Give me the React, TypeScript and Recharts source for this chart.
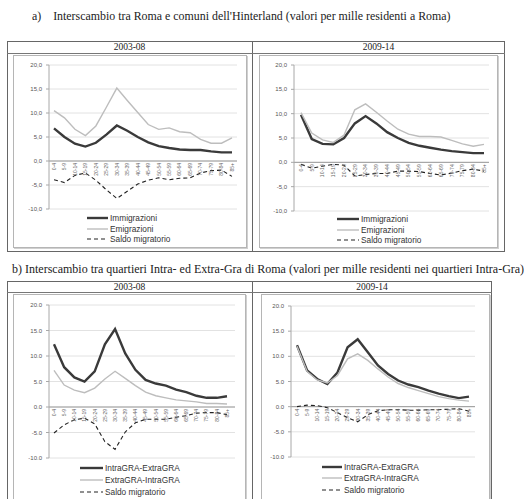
import React from "react";
import { LineChart, Line, XAxis, YAxis, CartesianGrid, ReferenceLine } from "recharts";

/* ── age groups (x axis) ── */
const AGES = [
  "0-4", "5-9", "10-14", "15-19", "20-24", "25-29", "30-34", "35-39", "40-44",
  "45-49", "50-54", "55-59", "60-64", "65-69", "70-74", "75-79", "80-84", "85+",
];
const Y_TICKS = [-10, -5, 0, 5, 10, 15, 20];

/* ── a) Roma <-> Hinterland, 2003-08 ── */
const immA1 = [6.8, 5.0, 3.6, 3.0, 3.8, 5.5, 7.4, 6.3, 5.0, 3.9, 3.1, 2.7, 2.4, 2.3, 2.3, 2.0, 1.8, 1.8];
const emiA1 = [10.5, 9.0, 6.6, 5.3, 7.3, 11.2, 15.2, 12.6, 10.1, 7.6, 6.6, 6.9, 6.1, 5.9, 4.5, 3.7, 3.7, 4.8];
const salA1 = [-3.9, -4.5, -3.0, -2.5, -4.0, -6.0, -7.8, -6.3, -4.8, -4.0, -3.5, -3.9, -3.6, -3.5, -2.5, -2.0, -1.9, -3.2];

/* ── a) Roma <-> Hinterland, 2009-14 ── */
const immA2 = [9.8, 4.8, 3.8, 3.7, 5.0, 8.0, 9.5, 8.0, 6.2, 5.0, 4.0, 3.4, 3.0, 2.6, 2.3, 2.1, 1.9, 1.9];
const emiA2 = [10.2, 6.0, 4.6, 4.1, 5.6, 10.8, 12.0, 10.3, 8.5, 6.8, 5.8, 5.3, 5.3, 5.2, 4.5, 3.8, 3.3, 3.7];
const salA2 = [-0.4, -1.2, -0.8, -0.4, -0.6, -2.8, -2.5, -2.3, -2.3, -1.8, -1.8, -1.9, -2.3, -2.6, -2.2, -1.7, -1.4, -1.8];

/* ── b) Intra-GRA <-> Extra-GRA, 2003-08 ── */
const intB1 = [12.3, 7.8, 5.8, 5.0, 7.0, 12.3, 15.3, 10.5, 7.3, 5.3, 4.6, 4.2, 3.4, 2.9, 2.2, 1.8, 1.8, 2.1];
const extB1 = [7.2, 4.3, 3.3, 2.8, 3.7, 5.5, 7.0, 5.6, 4.2, 2.9, 2.2, 1.8, 1.4, 1.2, 1.0, 0.7, 0.7, 0.6];
const salB1 = [-5.1, -3.5, -2.5, -2.2, -3.3, -6.8, -8.3, -4.9, -3.1, -2.4, -2.4, -2.4, -2.0, -1.7, -1.2, -1.1, -1.1, -1.5];

/* ── b) Intra-GRA <-> Extra-GRA, 2009-14 ── */
const intB2 = [12.2, 7.2, 5.5, 4.5, 6.8, 11.8, 13.4, 10.8, 8.2, 6.5, 5.2, 4.4, 3.9, 3.2, 2.6, 2.1, 1.7, 2.0];
const extB2 = [12.0, 7.0, 5.3, 4.7, 6.2, 9.5, 10.5, 9.2, 7.5, 5.9, 4.6, 3.8, 3.2, 2.6, 2.0, 1.6, 1.3, 1.1];
const salB2 = [0.0, 0.3, 0.2, -0.2, -1.2, -2.2, -3.0, -1.6, -0.8, -0.6, -0.6, -0.7, -0.7, -0.6, -0.6, -0.5, -0.4, -0.9];

const rows = (a: number[], b: number[], c: number[]) =>
  AGES.map((age, i) => ({ age, s1: a[i], s2: b[i], s3: c[i] }));

const DARK = "#3a3a3a";
const LIGHT = "#bdbdbd";
const SANS = "'Liberation Sans', Arial, sans-serif";
const SERIF = "'Liberation Serif', 'Times New Roman', serif";

type Series = { key: string; name: string; stroke: string; width: number; dash?: string };

const seriesA: Series[] = [
  { key: "s1", name: "Immigrazioni", stroke: DARK, width: 2.4 },
  { key: "s2", name: "Emigrazioni", stroke: LIGHT, width: 1.4 },
  { key: "s3", name: "Saldo migratorio", stroke: "#222", width: 1.1, dash: "4 3" },
];
const seriesB: Series[] = [
  { key: "s1", name: "IntraGRA-ExtraGRA", stroke: DARK, width: 2.4 },
  { key: "s2", name: "ExtraGRA-IntraGRA", stroke: LIGHT, width: 1.4 },
  { key: "s3", name: "Saldo migratorio", stroke: "#222", width: 1.1, dash: "4 3" },
];

type PanelProps = {
  left: number; top: number; width: number; height: number;
  margin: { top: number; right: number; bottom: number; left: number };
  axisW: number; pad: [number, number];
  data: any[]; series: Series[]; sep: string;
  legend: { x: number; y: number; sw: number; gap: number };
};

function Panel(p: PanelProps) {
  const plotH = p.height - 2 - p.margin.top - p.margin.bottom - 1;
  const zeroShift = plotH / 3; // 0 lies a third of the way up from -10
  const AgeTick = (t: any) => (
    <text
      transform={`translate(${t.x + 1.8},${t.y - zeroShift + 2}) rotate(-90)`}
      textAnchor="end" fontSize={5} fill="#666" fontFamily={SANS}
    >
      {t.payload.value}
    </text>
  );
  return (
    <div style={{
      position: "absolute", left: p.left, top: p.top, width: p.width, height: p.height,
      border: "1px solid #b5b5b5", boxShadow: "1px 1px 0 #d0d0d0", boxSizing: "border-box",
      background: "#fff",
    }}>
      <LineChart width={p.width - 2} height={p.height - 2} data={p.data} margin={p.margin}>
        <CartesianGrid vertical={false} stroke="#e2e2e2" />
        <XAxis
          dataKey="age" interval={0} height={1} tickSize={0} tickMargin={0}
          axisLine={false} tickLine={false} tick={AgeTick}
          padding={{ left: p.pad[0], right: p.pad[1] }}
        />
        <YAxis
          domain={[-10, 20]} ticks={Y_TICKS} width={p.axisW} tickSize={3} tickMargin={4}
          axisLine={{ stroke: "#a8a8a8" }} tickLine={{ stroke: "#a8a8a8" }}
          tick={{ fontSize: 6, fill: "#555", fontFamily: SANS }}
          tickFormatter={(v: number) => v.toFixed(1).replace(".", p.sep)}
        />
        <ReferenceLine y={0} stroke="#9a9a9a" />
        {p.series.map((s) => (
          <Line
            key={s.key} dataKey={s.key} name={s.name} type="linear"
            stroke={s.stroke} strokeWidth={s.width} strokeDasharray={s.dash}
            dot={false} isAnimationActive={false}
          />
        ))}
      </LineChart>
      <div style={{ position: "absolute", left: p.legend.x, top: p.legend.y, fontFamily: SANS, fontSize: 8.3, color: "#333" }}>
        {p.series.map((s) => (
          <div key={s.key} style={{ display: "flex", alignItems: "center", height: p.legend.gap }}>
            <svg width={p.legend.sw} height={6} style={{ marginRight: 2 }}>
              <line x1={0} y1={3} x2={p.legend.sw} y2={3} stroke={s.stroke}
                strokeWidth={s.width} strokeDasharray={s.dash} />
            </svg>
            <span style={{ lineHeight: 1 }}>{s.name}</span>
          </div>
        ))}
      </div>
    </div>
  );
}

const cell = { position: "absolute" as const, boxSizing: "border-box" as const };

function Frame({ left, top, width, height, split, headH, labels }:
  { left: number; top: number; width: number; height: number; split: number; headH: number; labels: string[] }) {
  return (
    <>
      <div style={{ ...cell, left, top, width, height, border: "1px solid #666" }} />
      <div style={{ ...cell, left: split, top, width: 1, height, background: "#666" }} />
      <div style={{ ...cell, left, top: top + headH, width, height: 1, background: "#777" }} />
      {labels.map((l, i) => {
        const x0 = i === 0 ? left : split;
        const w = i === 0 ? split - left : left + width - split;
        return (
          <div key={l} style={{
            ...cell, left: x0, top: top + 1, width: w, height: headH - 1, textAlign: "center",
            fontFamily: SERIF, fontSize: 9.5, lineHeight: `${headH - 1}px`, color: "#222",
          }}>{l}</div>
        );
      })}
    </>
  );
}

export default function App() {
  return (
    <div style={{ position: "absolute", left: 0, top: 0, width: 524, height: 499, background: "#fff", overflow: "hidden" }}>
      <div style={{ ...cell, left: 32, top: 9, fontFamily: SERIF, fontSize: 11.9, color: "#222", whiteSpace: "nowrap" }}>
        a)&nbsp;&nbsp;&nbsp;&nbsp;Interscambio tra Roma e comuni dell'Hinterland (valori per mille residenti a Roma)
      </div>
      <Frame left={7} top={41} width={498} height={211} split={252} headH={12} labels={["2003-08", "2009-14"]} />
      <Panel left={13} top={55} width={234} height={193}
        margin={{ top: 9, right: 9, bottom: 37, left: 0 }} axisW={35} pad={[5, 5]}
        data={rows(immA1, emiA1, salA1)} series={seriesA} sep=","
        legend={{ x: 73, y: 157, sw: 21, gap: 10.5 }} />
      <Panel left={259} top={55} width={239} height={193}
        margin={{ top: 9, right: 8, bottom: 35, left: 0 }} axisW={34} pad={[7, 5]}
        data={rows(immA2, emiA2, salA2)} series={seriesA} sep=","
        legend={{ x: 77, y: 158, sw: 22, gap: 10.5 }} />

      <div style={{ ...cell, left: 12, top: 262, fontFamily: SERIF, fontSize: 12, color: "#222", whiteSpace: "nowrap" }}>
        b) Interscambio tra quartieri Intra- ed Extra-Gra di Roma (valori per mille residenti nei quartieri Intra-Gra)
      </div>
      <Frame left={7} top={281} width={485} height={230} split={252} headH={11} labels={["2003-08", "2009-14"]} />
      <Panel left={13} top={294} width={233} height={206}
        margin={{ top: 10, right: 10, bottom: 40, left: 0 }} axisW={35} pad={[5, 8]}
        data={rows(intB1, extB1, salB1)} series={seriesB} sep="."
        legend={{ x: 66, y: 167, sw: 23, gap: 12 }} />
      <Panel left={261} top={294} width={229} height={206}
        margin={{ top: 11, right: 14, bottom: 41, left: 0 }} axisW={29} pad={[6, 6]}
        data={rows(intB2, extB2, salB2)} series={seriesB} sep="."
        legend={{ x: 60, y: 166, sw: 20, gap: 11.5 }} />
    </div>
  );
}
